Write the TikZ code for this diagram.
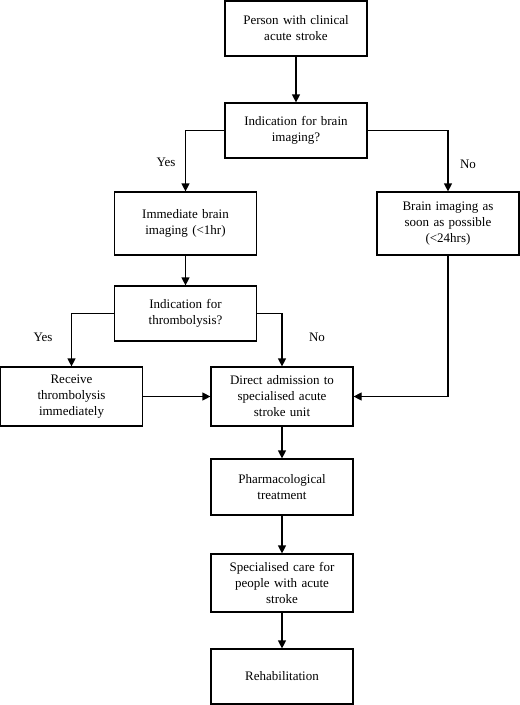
\documentclass[tikz,border=0pt]{standalone}
\usepackage{fontspec}
\setmainfont{Liberation Serif}
\usetikzlibrary{arrows.meta,positioning}

\begin{document}
\begin{tikzpicture}
  [
    x=1pt, y=-1pt,
    Box/.style={rectangle, draw=black, line width=1.2pt, minimum width=142pt, minimum height=55pt, text width=138pt, align=center, inner sep=0pt, font=\fontsize{13}{16}\selectfont},
    Note/.style={inner sep=0pt, font=\fontsize{13}{16}\selectfont},
    Arrow/.style={-{Triangle[length=8pt,width=8pt]}, draw, line width=1.2pt}
  ]
  \useasboundingbox (0,0) rectangle (520,705);
  % Nodes
  \node[Box] (person) at(296, 28.5) {Person with clinical\\acute stroke};
  \node[Box] (imgq) at(296, 130.5) {Indication for brain\\imaging?};
  \node[Box, minimum height=63pt] (imgnow) at(185.5, 223.5) {Immediate brain\\imaging (<1hr)};
  \node[Box, minimum height=63pt] (imgsoon) at(448, 223.5) {Brain imaging as\\soon as possible\\(<24hrs)};
  \node[Box] (thrq) at(185.5, 313.5) {Indication for\\thrombolysis?};
  \node[Box, minimum height=59pt] (thr) at(71.5, 396.5) {Receive\\thrombolysis\\immediately};
  \node[Box, minimum height=59pt] (unit) at(282, 396.5) {Direct admission to\\specialised acute\\stroke unit};
  \node[Box, minimum height=56pt] (pharm) at(282, 487) {Pharmacological\\treatment};
  \node[Box, minimum height=58pt] (care) at(282, 583) {Specialised care for\\people with acute\\stroke};
  \node[Box] (rehab) at(282, 676.5) {Rehabilitation};
  % Labels
  \node[Note] (yes1) at(166, 162) {Yes};
  \node[Note] (no1) at(468, 164) {No};
  \node[Note] (yes2) at(43, 337) {Yes};
  \node[Note] (no2) at(317, 337) {No};
  % Lines
  \path [Arrow] (person) -- (imgq);
  \path [Arrow] (imgq.west) -| (imgnow.north);
  \path [Arrow] (imgq.east) -| (imgsoon.north);
  \path [Arrow] (imgnow) -- (thrq);
  \path [Arrow] (thrq.west) -| (thr.north);
  \path [Arrow] (thrq.east) -| (unit.north);
  \path [Arrow] (thr) -- (unit);
  \path [Arrow] (imgsoon.south) |- (unit.east);
  \path [Arrow] (unit) -- (pharm);
  \path [Arrow] (pharm) -- (care);
  \path [Arrow] (care) -- (rehab);
\end{tikzpicture}
\end{document}
